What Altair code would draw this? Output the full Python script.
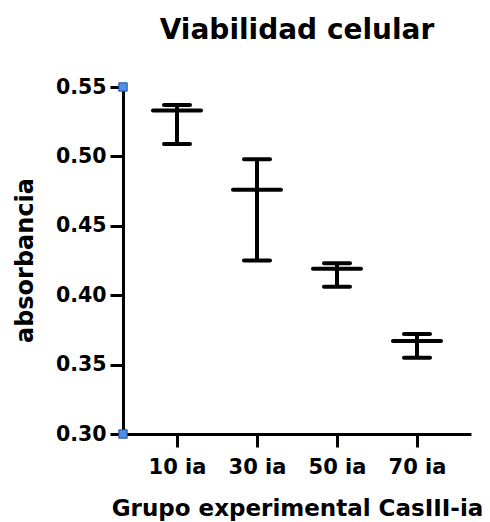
import altair as alt
import pandas as pd

groups = ["10 ia", "30 ia", "50 ia", "70 ia"]
means = [0.533, 0.476, 0.419, 0.367]
uppers = [0.537, 0.498, 0.423, 0.372]
lowers = [0.509, 0.425, 0.406, 0.355]
axis_ends = [0.30, 0.55]

df = pd.DataFrame({"g": groups, "m": means, "u": uppers, "l": lowers})
ends = pd.DataFrame({"v": axis_ends})

FONT = "DejaVu Sans"

x = alt.X("g:N", sort=groups,
          scale=alt.Scale(type="point", padding=0.675),
          axis=alt.Axis(title="Grupo experimental CasIII-ia", labelAngle=0,
                        labelFont=FONT, labelFontSize=21, labelFontWeight="bold",
                        labelColor="black", labelPadding=9,
                        tickSize=13, tickWidth=3, tickColor="black",
                        domainWidth=3, domainColor="black",
                        titleFont=FONT, titleFontSize=23, titleFontWeight="bold",
                        titleColor="black", titleBaseline="alphabetic",
                        titleY=81, titleX=174, titleAlign="center"))
yscale = alt.Scale(domain=[0.30, 0.55], nice=False, zero=False)
yaxis = alt.Axis(title="absorbancia", values=[0.30, 0.35, 0.40, 0.45, 0.50, 0.55],
                 format=".2f", labelFont=FONT, labelFontSize=20.5, labelFontWeight="bold",
                 labelColor="black", labelPadding=4,
                 tickSize=13, tickWidth=3, tickColor="black",
                 domainWidth=3, domainColor="black", grid=False,
                 titleFont=FONT, titleFontSize=24, titleFontWeight="bold",
                 titleColor="black", titleBaseline="alphabetic",
                 titleX=-91, titleY=173, titleAngle=270, titleAlign="center")

base = alt.Chart(df)
stem = base.mark_rule(color="black", strokeWidth=4).encode(
    x=x, y=alt.Y("l:Q", scale=yscale, axis=yaxis), y2="u:Q")
capu = base.mark_tick(color="black", size=30, thickness=4, cornerRadius=2, opacity=1).encode(
    x=alt.X("g:N", sort=groups), y=alt.Y("u:Q"))
capl = base.mark_tick(color="black", size=30, thickness=4, cornerRadius=2, opacity=1).encode(
    x=alt.X("g:N", sort=groups), y=alt.Y("l:Q"))
meanl = base.mark_tick(color="black", size=52, thickness=4, cornerRadius=2, opacity=1).encode(
    x=alt.X("g:N", sort=groups), y=alt.Y("m:Q"))
squares = alt.Chart(ends).mark_square(size=70, fill="#4f8fe6", stroke="#1f4fa0",
                                      strokeWidth=1, opacity=1).encode(
    x=alt.value(0), y=alt.Y("v:Q"))

chart = alt.layer(stem, capu, capl, meanl, squares).properties(
    width=348, height=347,
    background="white",
    title=alt.TitleParams("Viabilidad celular", font=FONT, fontSize=28,
                          fontWeight="bold", color="black", anchor="middle",
                          offset=32),
    autosize=alt.AutoSizeParams(type="none"),
    padding={"left": 123, "top": 87, "right": 19, "bottom": 88},
).configure_view(strokeWidth=0, stroke=None)

chart.save("out.html", embed_options={"renderer": "svg", "actions": False})
